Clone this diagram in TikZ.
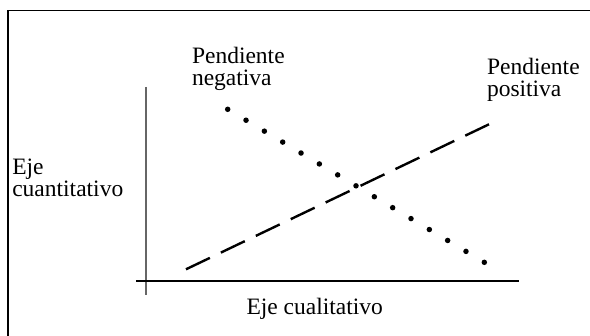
\documentclass[tikz,border=0pt]{standalone}
\usepackage{fontspec}
\setmainfont{Liberation Serif}
\begin{document}
\begin{tikzpicture}[x=1pt,y=-1pt,
  lbl/.style={anchor=base west,inner sep=0pt,outer sep=0pt,align=left,
    font=\fontsize{23.5}{21.7}\selectfont},
  axisline/.style={line width=1.6pt},
  dashline/.style={line width=2.4pt,dash pattern=on 26.5pt off 12.2pt},
  dotmark/.style={circle,fill=black,inner sep=0pt,minimum size=5.5pt}]
\useasboundingbox (0,0) rectangle (590,336);
% frame (left and top edges visible)
\draw[line width=1.3pt] (8,340) -- (8,10.7) -- (595,10.7);
% axes
\coordinate (vtop) at (145.7,87);
\coordinate (vbot) at (145.7,295);
\coordinate (hl) at (136,281);
\coordinate (hr) at (519.3,281);
\draw[axisline,draw=black!60] (vtop) -- (vbot);
\draw[axisline] (hl) -- (hr);
% dashed line (positive slope)
\coordinate (ds) at (186,269.3);
\coordinate (de) at (489,124.3);
\draw[dashline] (ds) -- (de);
% dotted line (negative slope)
\foreach \i in {0,...,14} {
  \node[dotmark] (d\i) at ({227.7+\i*18.33},{109.3+\i*10.93}) {};
}
% labels (anchor = baseline of last line)
\node[lbl] (neg) at (192,85.5) {Pendiente\\negativa};
\node[lbl] (pos) at (487,96.7) {Pendiente\\positiva};
\node[lbl] (ycuant) at (12.3,196.5) {Eje\\cuantitativo};
\node[lbl] (xcual) at (246.5,314.3) {Eje cualitativo};
\end{tikzpicture}
\end{document}
